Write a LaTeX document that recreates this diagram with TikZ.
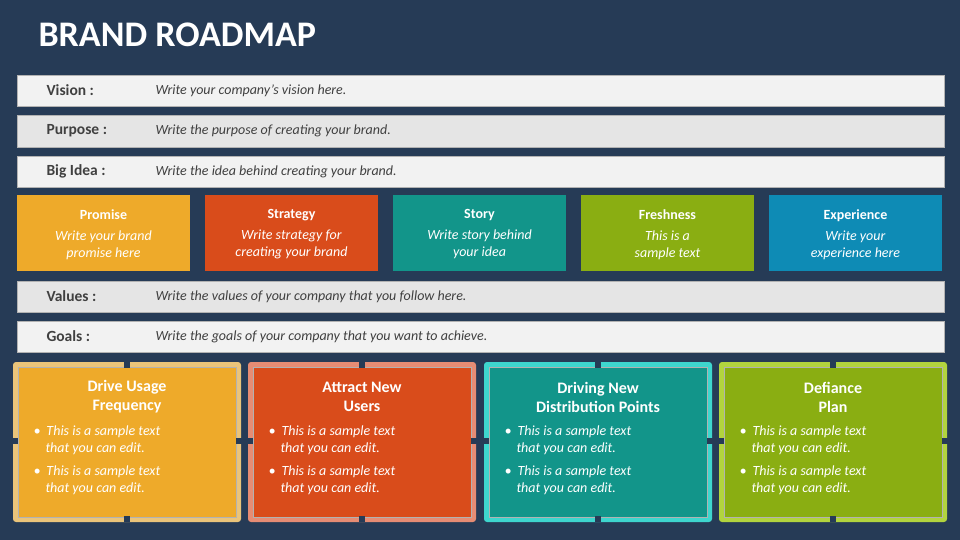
\documentclass[tikz,border=0pt]{standalone}
\usepackage{fontspec}
\setmainfont{Carlito}
\begin{document}
\begin{tikzpicture}[x=1pt,y=-1pt,
 bar/.style={fill=#1,draw=gray!60,line width=0.4pt},
 lbl/.style={anchor=west,text=black!75,font=\bfseries\fontsize{15.5}{18}\selectfont},
 txt/.style={anchor=west,text=black!75,font=\itshape\fontsize{14}{16}\selectfont},
 cbox/.style={fill=#1,draw=none},
 ctxt/.style={text=white,align=center,font=\fontsize{14}{17}\selectfont},
 tab/.style={fill=bgc,draw=none},
 ctitle/.style={text=white,align=center,font=\bfseries\fontsize{16}{19}\selectfont},
 bul/.style={text=white,anchor=north west,align=left,font=\itshape\fontsize{14}{17}\selectfont}]
\definecolor{bgc}{HTML}{263B56}
\definecolor{cY}{HTML}{EEAA2A}\definecolor{cR}{HTML}{D94C1B}
\definecolor{cT}{HTML}{12958A}\definecolor{cG}{HTML}{8AAE12}
\definecolor{cB}{HTML}{0E8BB5}
\definecolor{oY}{HTML}{EAC47A}\definecolor{oR}{HTML}{E68C74}
\definecolor{oT}{HTML}{3ED6CE}\definecolor{oG}{HTML}{B2D43E}
\fill[bgc] (0,0) rectangle (960,540);
\useasboundingbox (0,0) rectangle (960,540);
\node[anchor=west,text=white,font=\bfseries\fontsize{36}{40}\selectfont] (title) at (35,35) {BRAND ROADMAP};
% bars
\foreach \n/\a/\b/\l/\t/\c in {vis/75/106/Vision :/Write your company’s vision here./black!5,
 pur/115/147/Purpose :/Write the purpose of creating your brand./black!10,
 big/156/187/Big Idea :/Write the idea behind creating your brand./black!5,
 val/281/312/Values :/Write the values of your company that you follow here./black!10,
 goa/321/352/Goals :/Write the goals of your company that you want to achieve./black!5}{
 \path[bar=\c] (17,\a) rectangle (944,\b);
 \node[lbl] (\n-l) at (43,{(\a+\b)/2}) {\l};
 \node[txt] (\n-t) at (152,{(\a+\b)/2}) {\t};
}
% colored boxes
\foreach \n/\x/\c/\h/\tA/\tB in {pro/17/cY/Promise/Write your brand/promise here,
 str/205/cR/Strategy/Write strategy for/creating your brand,
 sto/393/cT/Story/Write story behind/your idea,
 fre/581/cG/Freshness/This is a/sample text,
 exp/769/cB/Experience/Write your/experience here}{
 \path[cbox=\c] (\x,195) rectangle ++(173,76);
 \node[ctxt] (\n) at (\x+86.5,234.5) {\textbf{\h}\\[4pt]\textit{\tA}\\[0pt]\textit{\tB}};
}
% bottom cards
\foreach \n/\x/\c/\o/\tA/\tB in {c1/13/cY/oY/Drive Usage/Frequency,
 c2/248/cR/oR/Attract New/Users,
 c3/484/cT/oT/Driving New/Distribution Points,
 c4/719/cG/oG/Defiance/Plan}{
 \fill[\o,rounded corners=3pt] (\x,362) rectangle ++(228,160);
 \filldraw[fill=\c,draw=black!30,line width=0.4pt] (\x+5,367) rectangle ++(218,150);
 \fill[tab] (\x+111,362) rectangle ++(6,6);
 \fill[tab] (\x+111,516) rectangle ++(6,6);
 \fill[tab] (\x-2,438) rectangle ++(7,6);
 \fill[tab] (\x+223,438) rectangle ++(7,6);
 \node[ctitle] (\n-t) at (\x+114,397) {\tA\\\tB};
 \node[bul] (\n-b1) at (\x+17,422) {•\hspace{6pt}This is a sample text\\\hspace{12pt}that you can edit.};
 \node[bul] (\n-b2) at (\x+17,462) {•\hspace{6pt}This is a sample text\\\hspace{12pt}that you can edit.};
}
\end{tikzpicture}
\end{document}
